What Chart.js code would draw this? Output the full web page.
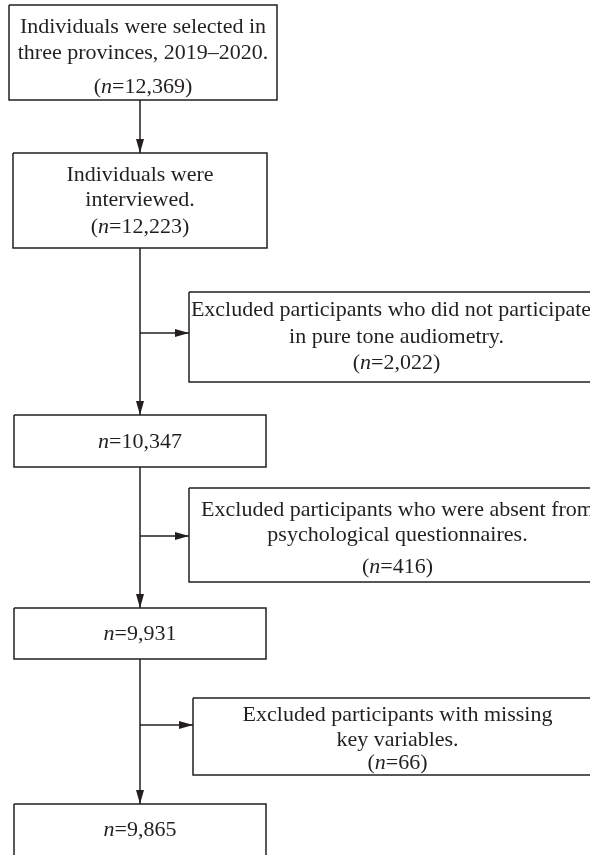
<!DOCTYPE html>
<html>
<head>
<meta charset="utf-8">
<script src="https://cdn.jsdelivr.net/npm/chart.js@4"></script>
<style>
  html, body { margin: 0; padding: 0; background: #fff; }
  #wrap { width: 590px; height: 855px; position: relative; }
</style>
</head>
<body>
<div id="wrap"><canvas id="flow"></canvas></div>
<script>
// Participant flow: main stages down the left, exclusions branching right.
const stageLabels = [
  ["Individuals were selected in", "three provinces, 2019–2020."],
  ["Individuals were", "interviewed."],
  [],
  [],
  [],
];
const stageCounts = [12369, 12223, 10347, 9931, 9865];
const stageParens = [true, true, false, false, false];

const exclusionLabels = [
  ["Excluded participants who did not participated", "in pure tone audiometry."],
  ["Excluded participants who were absent from", "psychological questionnaires."],
  ["Excluded participants with missing", "key variables."],
];
const exclusionCounts = [2022, 416, 66];

// Layout in axis units (the axes span the page: x 0–590, y 0–855 top-down).
const trunkX = 140;
const stageBoxes = [[9, 277, 5, 100], [13, 267, 153, 248], [14, 266, 415, 467], [14, 266, 608, 659], [14, 266, 804, 862]];
const exclusionBoxes = [[189, 604, 292, 382], [189, 606, 488, 582], [193, 602, 698, 775]];
const branchY = [333, 536, 725];
const stageLineY = [[27, 53, 87], [175, 200, 227], [442], [634], [830]];
const exclusionLineY = [[310, 337, 363], [510, 535, 567], [715, 740, 763]];

const INK = "#231f20";
const FONT = "Liberation Serif";
const SIZE = 22;

const rectPath = ([x0, x1, y0, y1]) => [
  { x: x0, y: y0 }, { x: x1, y: y0 }, { x: x1, y: y1 }, { x: x0, y: y1 }, { x: x0, y: y0 },
];

const lineDs = (data, arrow) => ({
  data,
  showLine: true,
  borderColor: INK,
  borderWidth: 1.5,
  pointRadius: 0,
  tension: 0,
  fill: false,
  arrow,
});

const datasets = [];
stageBoxes.forEach((b) => datasets.push(lineDs(rectPath(b), false)));
exclusionBoxes.forEach((b) => datasets.push(lineDs(rectPath(b), false)));
for (let i = 0; i < stageBoxes.length - 1; i++) {
  datasets.push(lineDs([{ x: trunkX, y: stageBoxes[i][3] }, { x: trunkX, y: stageBoxes[i + 1][2] }], true));
}
branchY.forEach((y, i) => {
  datasets.push(lineDs([{ x: trunkX, y }, { x: exclusionBoxes[i][0], y }], true));
});

const fmt = (n) => n.toLocaleString("en-US");

// "(n=12,369)" with an italic n, centred on cx.
function drawCount(ctx, count, parens, cx, cy) {
  const parts = [
    [parens ? "(" : "", "normal"],
    ["n", "italic"],
    ["=" + fmt(count) + (parens ? ")" : ""), "normal"],
  ];
  let total = 0;
  parts.forEach(([t, st]) => {
    ctx.font = `${st} ${SIZE}px "${FONT}"`;
    total += ctx.measureText(t).width;
  });
  let x = cx - total / 2;
  ctx.textAlign = "left";
  parts.forEach(([t, st]) => {
    ctx.font = `${st} ${SIZE}px "${FONT}"`;
    ctx.fillText(t, x, cy);
    x += ctx.measureText(t).width;
  });
}

const flowPlugin = {
  id: "flowText",
  afterDatasetsDraw(chart) {
    const { ctx, scales: { x: sx, y: sy } } = chart;
    ctx.save();
    ctx.fillStyle = INK;

    // arrowheads at the end of each connector
    chart.data.datasets.forEach((ds) => {
      if (!ds.arrow) return;
      const a = ds.data[0], b = ds.data[1];
      const px1 = sx.getPixelForValue(a.x), py1 = sy.getPixelForValue(a.y);
      const px2 = sx.getPixelForValue(b.x), py2 = sy.getPixelForValue(b.y);
      const ang = Math.atan2(py2 - py1, px2 - px1);
      const len = 14, half = 4;
      ctx.beginPath();
      ctx.moveTo(px2, py2);
      ctx.lineTo(px2 - len * Math.cos(ang) - half * Math.sin(ang), py2 - len * Math.sin(ang) + half * Math.cos(ang));
      ctx.lineTo(px2 - len * Math.cos(ang) + half * Math.sin(ang), py2 - len * Math.sin(ang) - half * Math.cos(ang));
      ctx.closePath();
      ctx.fill();
    });

    ctx.textBaseline = "middle";
    const drawBox = (box, labels, count, parens, rows) => {
      const cx = sx.getPixelForValue((box[0] + box[1]) / 2);
      labels.forEach((line, i) => {
        ctx.font = `normal ${SIZE}px "${FONT}"`;
        ctx.textAlign = "center";
        ctx.fillText(line, cx, sy.getPixelForValue(rows[i]));
      });
      drawCount(ctx, count, parens, cx, sy.getPixelForValue(rows[labels.length]));
    };
    stageBoxes.forEach((b, i) => drawBox(b, stageLabels[i], stageCounts[i], stageParens[i], stageLineY[i]));
    exclusionBoxes.forEach((b, i) => drawBox(b, exclusionLabels[i], exclusionCounts[i], true, exclusionLineY[i]));
    ctx.restore();
  },
};

new Chart(document.getElementById("flow"), {
  type: "scatter",
  data: { datasets },
  plugins: [flowPlugin],
  options: {
    responsive: true,
    maintainAspectRatio: false,
    devicePixelRatio: 1,
    animation: false,
    layout: { padding: 0 },
    plugins: { legend: { display: false }, tooltip: { enabled: false } },
    scales: {
      x: { type: "linear", min: 0, max: 590, display: false },
      y: { type: "linear", min: 0, max: 855, reverse: true, display: false },
    },
  },
});
</script>
</body>
</html>
